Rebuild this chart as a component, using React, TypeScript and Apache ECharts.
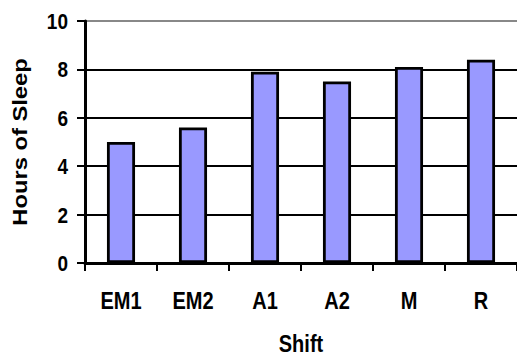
import React, { useEffect, useRef } from "react";
import * as echarts from "echarts";

const shifts = ["EM1", "EM2", "A1", "A2", "M", "R"];
const hoursOfSleep = [5.0, 5.6, 7.9, 7.5, 8.1, 8.4];
const yTicks = { min: 0, max: 10, interval: 2 };
const xTitle = "Shift";
const yTitle = "Hours of Sleep";

const FONT = "'Liberation Sans', Arial, sans-serif";
const GRID = { left: 85, right: 0, top: 21, bottom: 94 };
const W = 517;
const H = 357;

export default function App() {
  const ref = useRef<HTMLDivElement>(null);

  useEffect(() => {
    if (!ref.current) return;
    const chart = echarts.init(ref.current, null, { renderer: "svg" });
    chart.setOption({
      animation: false,
      backgroundColor: "#ffffff",
      grid: { ...GRID, containLabel: false },
      xAxis: {
        type: "category",
        data: shifts,
        boundaryGap: true,
        axisLine: { show: true, lineStyle: { color: "#000", width: 3 } },
        axisTick: { show: true, alignWithLabel: false, length: 8, lineStyle: { color: "#000", width: 2 } },
        axisLabel: { show: false },
        splitLine: { show: false },
      },
      yAxis: {
        type: "value",
        min: yTicks.min,
        max: yTicks.max,
        interval: yTicks.interval,
        axisLine: { show: true, lineStyle: { color: "#000", width: 3 } },
        axisTick: { show: true, inside: false, length: 8, lineStyle: { color: "#000", width: 2 } },
        axisLabel: { show: false },
        splitLine: {
          show: true,
          lineStyle: {
            width: 2,
            color: ["#000", "#000", "#000", "#000", "#000", "#888"],
          },
        },
      },
      series: [
        {
          type: "bar",
          data: hoursOfSleep,
          barWidth: "39%",
          itemStyle: { color: "#9999ff", borderColor: "#000", borderWidth: 2.8 },
        },
      ],
    });

    // Tall bold labels, placed with the chart's own scales.
    const labelStyle = (text: string, size: number, align: string) => ({
      text,
      fontFamily: FONT,
      fontWeight: "bold",
      fontSize: size,
      lineHeight: size,
      fill: "#000",
      align,
      verticalAlign: "middle",
    });

    const elements: any[] = [];
    shifts.forEach((s) => {
      const [px] = chart.convertToPixel({ gridIndex: 0 }, [s, 0]) as number[];
      elements.push({
        type: "text",
        x: px,
        y: 301,
        scaleY: 1.2,
        style: labelStyle(s, 20, "center"),
      });
    });
    for (let v = yTicks.min; v <= yTicks.max; v += yTicks.interval) {
      const [, py] = chart.convertToPixel({ gridIndex: 0 }, [shifts[0], v]) as number[];
      elements.push({
        type: "text",
        x: 68,
        y: py,
        scaleY: 1.15,
        style: labelStyle(String(v), 19, "right"),
      });
    }
    const plotTop = GRID.top;
    const plotBottom = H - GRID.bottom;
    elements.push({
      type: "text",
      x: 20,
      y: (plotTop + plotBottom) / 2,
      rotation: Math.PI / 2,
      scaleX: 1.13,
      style: labelStyle(yTitle, 21, "center"),
    });
    elements.push({
      type: "text",
      x: (GRID.left + (W - GRID.right)) / 2,
      y: 344,
      scaleY: 1.2,
      style: labelStyle(xTitle, 20, "center"),
    });
    chart.setOption({ graphic: { elements } });

    return () => chart.dispose();
  }, []);

  return (
    <div
      ref={ref}
      style={{ position: "fixed", left: 0, top: 0, width: W, height: H, background: "#fff" }}
    />
  );
}
